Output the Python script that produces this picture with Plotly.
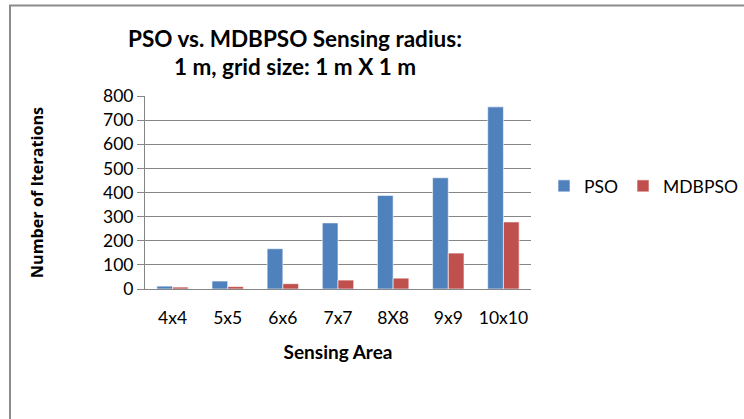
import plotly.graph_objects as go

categories = ["4x4", "5x5", "6x6", "7x7", "8X8", "9x9", "10x10"]
pso = [12, 33, 167, 274, 388, 461, 755]
mdbpso = [8, 10, 22, 37, 45, 149, 278]
y_ticks = [0, 100, 200, 300, 400, 500, 600, 700, 800]

W, H = 744, 419
L, R, T, B = 145, 531, 96, 289  # plot area in pixels

def px_x(p):
    return (p - L) / (R - L)

def px_y(p):
    return (B - p) / (B - T)

FONT = "Lato"
grid = "#868686"

fig = go.Figure()
fig.add_trace(go.Bar(name="PSO", x=categories, y=pso,
                     marker=dict(color="#4F81BD", line=dict(color="rgba(255,255,255,0.6)", width=1))))
fig.add_trace(go.Bar(name="MDBPSO", x=categories, y=mdbpso,
                     marker=dict(color="#C0504D", line=dict(color="rgba(255,255,255,0.6)", width=1))))

fig.update_layout(
    width=W, height=H,
    margin=dict(l=L, r=W - R, t=T, b=H - B, pad=0, autoexpand=False),
    paper_bgcolor="white", plot_bgcolor="white",
    barmode="group", bargap=0.43, bargroupgap=0,
    font=dict(family=FONT, size=17, color="black"),
    showlegend=True,
    legend=dict(orientation="h", x=px_x(544), y=px_y(186), xanchor="left", yanchor="middle",
                font=dict(family=FONT, size=17.5), itemwidth=30, tracegroupgap=0),
    xaxis=dict(showline=True, linecolor=grid, linewidth=1, ticks="", showgrid=False,
               tickfont=dict(family=FONT, size=17.5), ticklabelstandoff=13,
               title=dict(text="<b>Sensing Area</b>", font=dict(family=FONT, size=19), standoff=18)),
    yaxis=dict(range=[0, 800], tickvals=y_ticks, showline=True, linecolor=grid, linewidth=1,
               ticks="outside", ticklen=7, tickcolor=grid, showgrid=True, gridcolor=grid, gridwidth=1,
               zeroline=False, tickfont=dict(family=FONT, size=17.5),
               title=dict(text="<b>Number of Iterations</b>", font=dict(family="Open Sans", size=16.2), standoff=55)),
    annotations=[
        dict(text="<b>PSO vs. MDBPSO Sensing radius:</b>", x=px_x(295), y=px_y(38), xref="paper", yref="paper",
             showarrow=False, xanchor="center", yanchor="middle", font=dict(family=FONT, size=22.5)),
        dict(text="<b>1 m, grid size: 1 m X 1 m</b>", x=px_x(295), y=px_y(67), xref="paper", yref="paper",
             showarrow=False, xanchor="center", yanchor="middle", font=dict(family=FONT, size=22.5)),
    ],
    shapes=[
        dict(type="line", xref="paper", yref="paper", x0=px_x(10), x1=px_x(10), y0=px_y(5), y1=px_y(420),
             line=dict(color="#8c8c8c", width=2)),
        dict(type="line", xref="paper", yref="paper", x0=px_x(9), x1=px_x(745), y0=px_y(5.5), y1=px_y(5.5),
             line=dict(color="#8c8c8c", width=2)),
    ],
)

fig.write_html("out.html", config={"displayModeBar": False},
               post_script="document.body.style.margin='0';document.body.style.overflow='hidden';")
